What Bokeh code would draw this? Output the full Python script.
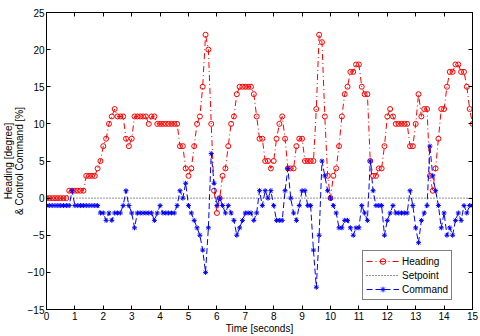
from bokeh.plotting import figure
from bokeh.models import (ColumnDataSource, Range1d, FixedTicker, LinearAxis,
                          Legend, LegendItem)
from bokeh.embed import file_html
from bokeh.resources import INLINE

# ---------------- data ----------------
time_s = [round(0.1 * i, 1) for i in range(151)]

heading = [
    0, 0, 0, 0, 0, 0, 0, 0, 1, 1,
    1, 1, 1, 1, 3, 3, 3, 3, 4, 5,
    7, 8, 10, 11, 12, 11, 11, 11, 8, 7,
    8, 11, 11, 11, 11, 11, 10, 11, 11, 10,
    10, 10, 10, 10, 10, 10, 10, 7, 7, 4,
    3, 4, 7, 10, 11, 15, 22, 20, 10, 1,
    -2, 0, 3, 4, 7, 10, 11, 14, 15, 15,
    15, 15, 15, 14, 11, 8, 8, 5, 5, 4,
    5, 8, 10, 11, 8, 4, 4, 4, 7, 8,
    8, 5, 5, 5, 5, 12, 22, 21, 11, 3,
    0, 3, 4, 7, 11, 14, 15, 17, 17, 18,
    18, 15, 14, 14, 5, 3, 3, 4, 4, 7,
    11, 12, 11, 10, 10, 10, 10, 10, 7, 7,
    10, 14, 11, 12, 12, 3, 1, 4, 8, 12,
    12, 15, 17, 17, 18, 18, 17, 17, 15, 12,
    10,
]

command = [
    -1, -1, -1, -1, -1, -1, -1, -1, -1, 1,
    -1, -1, -1, -1, -1, -1, -1, -1, -1, -2,
    -2, -3, -2, -3, -2, -2, -2, -1, 1, -1,
    -2, -4, -2, -2, -2, -2, -2, -2, -3, -2,
    -1, -2, -2, -2, -2, -2, -1, 1, 0, 2,
    -1, -2, -3, -4, -5, -7, -10, -4, 6, 2,
    -1, 0, -1, -2, -1, -2, -3, -5, -4, -3,
    -2, -2, -2, -3, -2, 1, -1, 1, 0, 1,
    -1, -3, -3, -3, 1, 4, 0, -2, -3, -1,
    1, 1, -1, -1, -7, -12, -5, 5, 3, 1,
    0, -1, -2, -4, -4, -3, -3, -4, -5, -4,
    -4, -1, -2, -3, 5, 1, -1, -1, -1, -5,
    -3, -2, -1, -2, -2, -2, -2, -2, 1, -1,
    -4, -6, -3, -2, -1, 7, 3, 1, -1, -4,
    -2, -5, -4, -5, -3, -2, -3, -1, -2, -1,
    -1,
]

setpoint_t = [0, 15]
setpoint_v = [0, 0]

x_ticks = list(range(0, 16))
y_ticks = [-15, -10, -5, 0, 5, 10, 15, 20, 25]

series_names = ["Heading", "Setpoint", "Command"]
x_title = "Time [seconds]"
y_title = "Heading [degree]\n& Control Command [%]"

# ---------------- figure ----------------
FONT = "Liberation Sans"

p = figure(width=480, height=336, output_backend="svg", toolbar_location=None,
           x_range=Range1d(0, 15), y_range=Range1d(-15, 25),
           min_border_left=10, min_border_right=8, min_border_top=12,
           min_border_bottom=10)
p.background_fill_color = "white"
p.border_fill_color = "white"
p.outline_line_color = "black"
p.outline_line_width = 1
p.xgrid.visible = False
p.ygrid.visible = False

bottom_ax = p.xaxis[0]
left_ax = p.yaxis[0]

def style_axis(ax, ticks, show_labels=True):
    ax.ticker = FixedTicker(ticks=ticks)
    ax.major_tick_in = 4
    ax.major_tick_out = 0
    ax.minor_tick_line_color = None
    ax.axis_line_color = "black"
    ax.major_tick_line_color = "black"
    ax.major_label_text_font = FONT
    ax.major_label_text_color = "black"
    ax.major_label_text_font_size = "10px"
    if show_labels:
        ax.major_label_standoff = 2
    else:
        ax.major_label_overrides = {t: "" for t in ticks}
        ax.major_label_standoff = 0

style_axis(bottom_ax, x_ticks)
style_axis(left_ax, y_ticks)
top_ax = LinearAxis()
right_ax = LinearAxis()
style_axis(top_ax, x_ticks, show_labels=False)
style_axis(right_ax, y_ticks, show_labels=False)
p.add_layout(top_ax, "above")
p.add_layout(right_ax, "right")

for ax, title in ((left_ax, y_title), (bottom_ax, x_title)):
    ax.axis_label = title
    ax.axis_label_text_font = FONT
    ax.axis_label_text_font_size = "10px"
    ax.axis_label_text_font_style = "normal"
    ax.axis_label_text_color = "black"
    ax.axis_label_standoff = 0
    ax.axis_label_text_line_height = 0.95

src_h = ColumnDataSource(dict(t=time_s, v=heading))
src_c = ColumnDataSource(dict(t=time_s, v=command))
src_s = ColumnDataSource(dict(t=setpoint_t, v=setpoint_v))

RED = "#ff0000"
BLUE = "#0000ff"

h_line = p.line("t", "v", source=src_h, line_color=RED, line_width=1,
                line_dash="6 3 1 3")
h_mark = p.scatter("t", "v", source=src_h, marker="circle", size=5,
                   fill_color=None, line_color=RED, line_width=1)
s_line = p.line("t", "v", source=src_s, line_color="#222222", line_width=1,
                line_dash="1 2")
c_line = p.line("t", "v", source=src_c, line_color=BLUE, line_width=1,
                line_dash="6 3")
c_mark = p.scatter("t", "v", source=src_c, marker="asterisk", size=5,
                   line_color=BLUE, line_width=1)

legend = Legend(items=[
    LegendItem(label=series_names[0], renderers=[h_line, h_mark]),
    LegendItem(label=series_names[1], renderers=[s_line]),
    LegendItem(label=series_names[2], renderers=[c_line, c_mark]),
], location=(316, 9))
legend.border_line_color = "black"
legend.border_line_width = 1
legend.background_fill_color = "white"
legend.background_fill_alpha = 1
legend.label_text_font = FONT
legend.label_text_font_size = "10px"
legend.label_text_color = "black"
legend.glyph_width = 33
legend.glyph_height = 14
legend.label_height = 14
legend.label_standoff = 3
legend.spacing = 0
legend.padding = 3
legend.margin = 0
p.add_layout(legend, "center")

open("out.html", "w").write(file_html(p, INLINE))
